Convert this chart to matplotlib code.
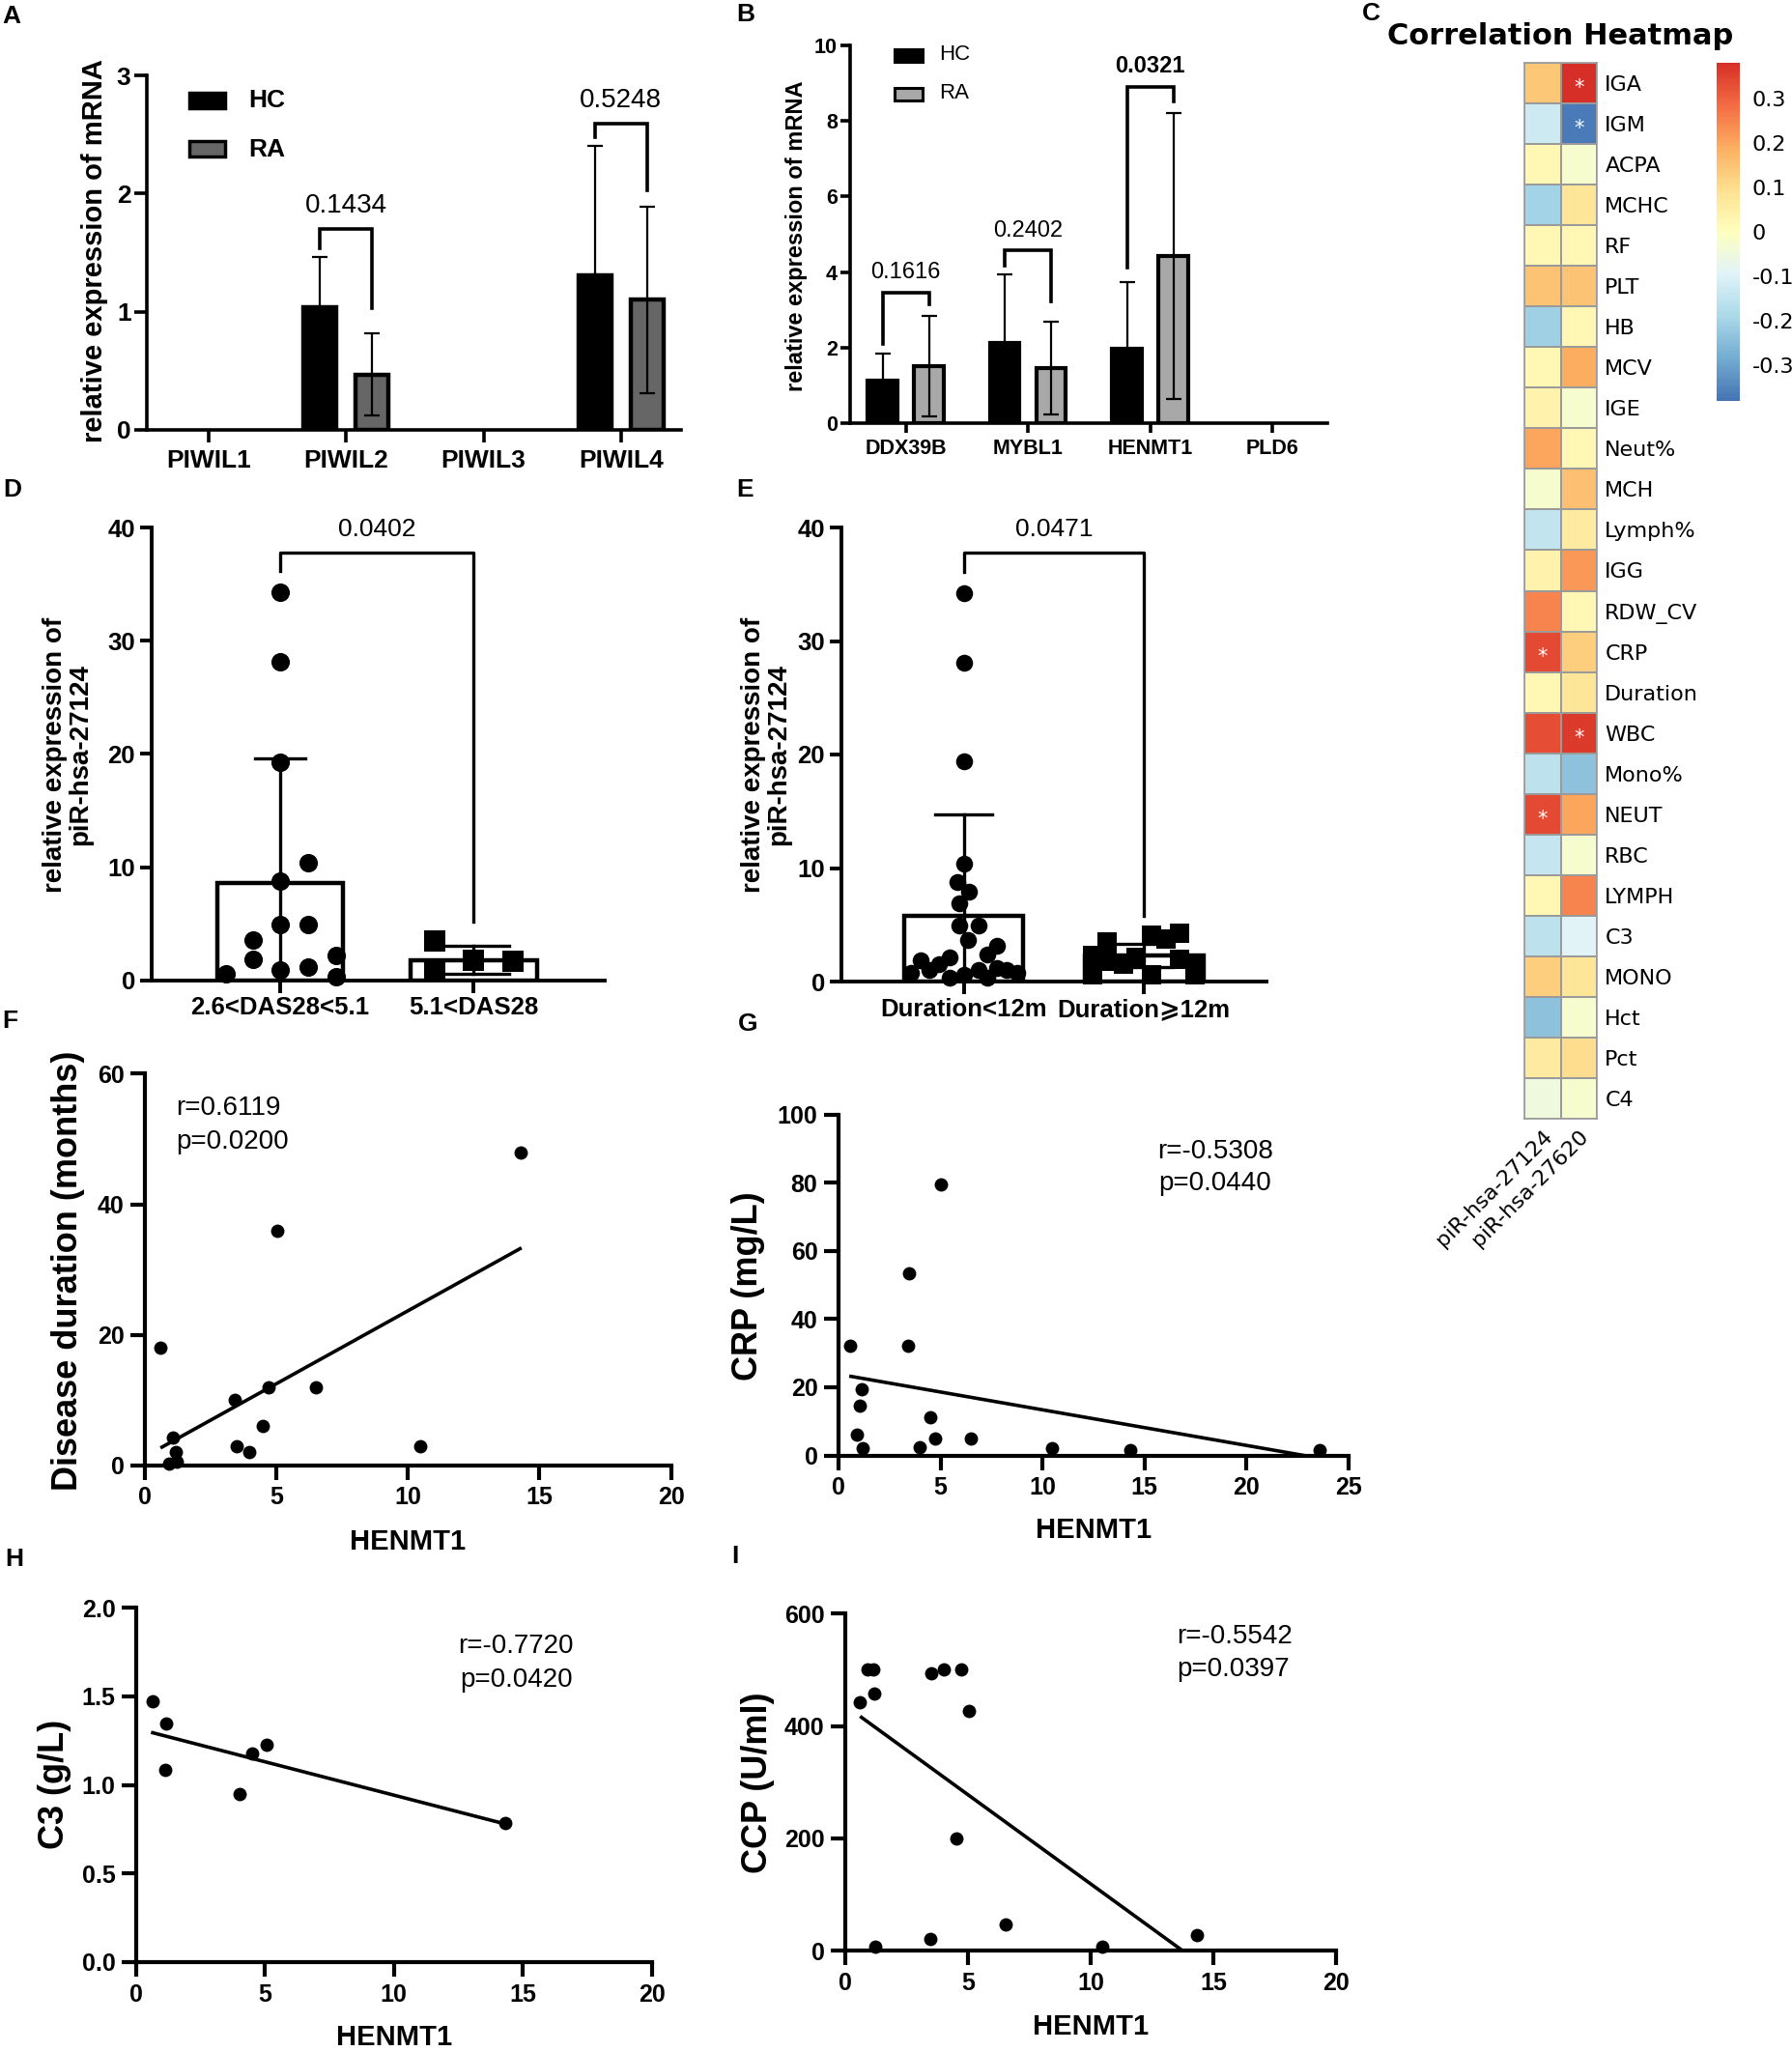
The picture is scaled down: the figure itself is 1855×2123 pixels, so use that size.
import numpy as np
import matplotlib
matplotlib.use("Agg")
import matplotlib.pyplot as plt
from matplotlib.patches import Rectangle
from matplotlib.colors import LinearSegmentedColormap
from matplotlib.ticker import FormatStrFormatter

W, H = 1855, 2123
plt.rcParams["font.family"] = ["Liberation Sans", "DejaVu Sans"]

# ---------------- data ----------------
# A: PIWIL mRNA, HC vs RA
A_GENES = ["PIWIL1", "PIWIL2", "PIWIL3", "PIWIL4"]
A_HC = [0, 1.04, 0, 1.31]
A_HC_SD = [0, 0.42, 0, 1.09]
A_RA = [0, 0.47, 0, 1.10]
A_RA_SD = [0, 0.35, 0, 0.79]
A_P = ["", "0.1434", "", "0.5248"]
A_BR_TOP = [0, 1.70, 0, 2.59]
A_BR_LEFT = [0, 1.54, 0, 2.48]
A_BR_RIGHT = [0, 1.03, 0, 2.03]

# B: piRNA pathway genes, HC vs RA
B_GENES = ["DDX39B", "MYBL1", "HENMT1", "PLD6"]
B_HC = [1.12, 2.11, 1.96, 0]
B_HC_SD = [0.73, 1.82, 1.78, 0]
B_RA = [1.51, 1.45, 4.43, 0]
B_RA_SD = [1.34, 1.23, 3.78, 0]
B_P = ["0.1616", "0.2402", "0.0321", ""]
B_BR_TOP = [3.46, 4.57, 8.91, 0]
B_BR_LEFT = [2.09, 4.17, 4.13, 0]
B_BR_RIGHT = [3.15, 3.23, 8.51, 0]

# C: correlation heatmap
C_ROWS = ["IGA", "IGM", "ACPA", "MCHC", "RF", "PLT", "HB", "MCV", "IGE", "Neut%",
          "MCH", "Lymph%", "IGG", "RDW_CV", "CRP", "Duration", "WBC", "Mono%",
          "NEUT", "RBC", "LYMPH", "C3", "MONO", "Hct", "Pct", "C4"]
C_COLS = ["piR-hsa-27124", "piR-hsa-27620"]
C_27124 = [0.14, -0.13, 0.025, -0.20, 0.025, 0.15, -0.21, 0.025, 0.04, 0.20,
           -0.025, -0.15, 0.04, 0.25, 0.34, 0.025, 0.33, -0.16, 0.34, -0.14,
           0.025, -0.16, 0.13, -0.24, 0.06, -0.05]
C_27620 = [0.38, -0.37, -0.025, 0.075, 0.025, 0.15, 0.025, 0.19, -0.025, 0.025,
           0.16, 0.06, 0.22, 0.025, 0.125, 0.075, 0.36, -0.24, 0.20, -0.025,
           0.25, -0.09, 0.075, -0.025, 0.10, -0.025]
C_STARS_27124 = ["CRP", "NEUT"]
C_STARS_27620 = ["IGA", "IGM", "WBC"]
C_CBAR_TICKS = [0.3, 0.2, 0.1, 0, -0.1, -0.2, -0.3]
C_CBAR_LABELS = ["0.3", "0.2", "0.1", "0", "-0.1", "-0.2", "-0.3"]

# D: piR-hsa-27124 by DAS28
D_GROUPS = ["2.6<DAS28<5.1", "5.1<DAS28"]
D_LOW = [34.26, 28.16, 19.24, 10.39, 8.76, 4.89, 4.95, 3.53, 1.87, 2.24, 0.88, 1.21, 0.60, 0.36]
D_LOW_JIT = [0, 0, 0, 0.145, 0, 0, 0.145, -0.14, -0.14, 0.29, 0, 0.145, -0.28, 0.29]
D_HIGH = [3.44, 1.81, 1.72, 0.82]
D_HIGH_JIT = [-0.2, 0, 0.2, -0.2]
D_MEAN = [8.58, 1.81]
D_SD = [11.0, 1.27]
D_P = "0.0402"
D_BR = (36.2, 37.8, 5.2)

# E: piR-hsa-27124 by disease duration
E_GROUPS = ["Duration<12m", "Duration\u2a7e12m"]
E_SHORT = [34.2, 28.1, 19.4, 10.4, 8.74, 7.93, 6.87, 4.91, 4.91, 3.62, 3.17, 2.35,
           1.9, 2.11, 0.75, 1.05, 1.5, 0.3, 0.6, 1.05, 0.3, 1.2, 1.05, 0.75]
E_SHORT_JIT = [0, 0, 0, 0, -0.034, 0.03, -0.027, -0.027, 0.08, 0.023, 0.186, 0.13,
               -0.24, -0.08, -0.295, -0.19, -0.136, -0.08, 0, 0.08, 0.13, 0.186, 0.24, 0.295]
E_LONG = [2.26, 3.47, 1.8, 1.5, 2.1, 4.07, 0.6, 3.77, 4.22, 1.96, 1.5, 0.6, 0.6]
E_LONG_JIT = [-0.284, -0.205, -0.205, -0.114, -0.045, 0.045, 0.045, 0.125, 0.2, 0.2,
              0.284, 0.284, -0.284]
E_MEAN = [5.82, 2.3]
E_SD = [8.9, 1.0]
E_P = "0.0471"
E_BR = (36.1, 37.8, 5.8)

# F-I: HENMT1 correlations
F_X = [0.60, 14.3, 5.02, 4.71, 6.51, 3.42, 4.47, 3.48, 3.96, 10.45, 1.08, 1.16, 0.91, 1.22]
F_Y = [17.98, 47.86, 35.9, 12.0, 12.0, 10.1, 5.98, 2.96, 2.04, 2.96, 4.24, 2.04, 0.26, 0.51]
F_FIT_X = [0.65, 14.26]
F_FIT_Y = [2.81, 33.2]

G_X = [0.57, 5.0, 3.47, 3.43, 1.12, 1.06, 0.92, 1.19, 3.99, 4.5, 4.74, 6.5, 10.47, 14.31, 23.57]
G_Y = [32.3, 79.5, 53.5, 32.1, 19.3, 14.5, 6.1, 2.0, 2.4, 11.1, 4.9, 4.9, 2.25, 1.5, 1.5]
G_FIT_X = [0.61, 22.8]
G_FIT_Y = [23.2, 0.0]

H_X = [0.64, 1.18, 1.12, 4.0, 4.51, 5.05, 14.32]
H_Y = [1.47, 1.345, 1.087, 0.949, 1.178, 1.225, 0.787]
H_FIT_X = [0.64, 14.32]
H_FIT_Y = [1.295, 0.78]

I_X = [0.61, 0.92, 1.14, 1.18, 1.23, 3.49, 4.0, 4.74, 5.03, 4.51, 3.47, 6.52, 10.46, 14.33]
I_Y = [443, 500, 500, 458, 7.5, 494.6, 500, 500, 427, 200.6, 21.2, 47.6, 7.5, 27.5]
I_FIT_X = [0.66, 13.7]
I_FIT_Y = [415.5, 1.7]


# ---------------- helpers ----------------
def add_ax(fig, l, t, r, b):
    return fig.add_axes([l / W, 1 - b / H, (r - l) / W, (b - t) / H])


def ftext(fig, x, y, s, **kw):
    kw.setdefault("ha", "center")
    kw.setdefault("va", "center")
    return fig.text(x / W, 1 - y / H, s, **kw)


def prism(ax, lw, tlen, tw, size, pad):
    ax.spines["top"].set_visible(False)
    ax.spines["right"].set_visible(False)
    ax.spines["left"].set_linewidth(lw)
    ax.spines["bottom"].set_linewidth(lw)
    ax.tick_params(length=tlen, width=tw, labelsize=size, pad=pad)
    for lab in ax.get_xticklabels() + ax.get_yticklabels():
        lab.set_fontweight("bold")


def legend_box(fig, l, t, r, b, color, lw):
    fig.add_artist(Rectangle((l / W, 1 - b / H), (r - l) / W, (b - t) / H,
                             transform=fig.transFigure, facecolor=color,
                             edgecolor="black", lw=lw))


def bar_panel(ax, genes, hc, hc_sd, ra, ra_sd, ra_color, p_txt, br_top, br_l, br_r,
              p_gap, p_size, bold_p, edge_lw, cap):
    off, bw = 0.19, 0.24
    for i in range(len(genes)):
        if hc[i] > 0:
            ax.bar(i - off, hc[i], bw, color="black", edgecolor="black", lw=edge_lw, zorder=2)
            ax.errorbar(i - off, hc[i], yerr=[[0], [hc_sd[i]]], fmt="none", ecolor="black",
                        elinewidth=1.6, capsize=cap, capthick=1.6, zorder=3)
        if ra[i] > 0:
            ax.bar(i + off, ra[i], bw, color=ra_color, edgecolor="black", lw=edge_lw, zorder=2)
            ax.errorbar(i + off, ra[i], yerr=ra_sd[i], fmt="none", ecolor="black",
                        elinewidth=1.6, capsize=cap, capthick=1.6, zorder=3)
        if p_txt[i]:
            ax.plot([i - off, i - off, i + off, i + off], [br_l[i], br_top[i], br_top[i], br_r[i]],
                    color="black", lw=2.6, solid_joinstyle="miter", clip_on=False)
            ax.text(i, br_top[i] + p_gap, p_txt[i], ha="center", va="center", fontsize=p_size,
                    fontweight="bold" if p_txt[i] in bold_p else "normal")


def dot_panel(ax, groups, vals, jits, markers, sizes, means, sds, caps, bar_w):
    for i in range(len(groups)):
        ax.bar(i, means[i], bar_w, facecolor="white", edgecolor="black", lw=3.2, zorder=1)
        lo = max(0.0, means[i] - sds[i])
        hi = means[i] + sds[i]
        ax.plot([i, i], [lo, hi], color="black", lw=2.4, zorder=2)
        ax.plot([i - caps[i], i + caps[i]], [hi, hi], color="black", lw=2.4, zorder=2)
        if lo > 0:
            ax.plot([i - caps[i], i + caps[i]], [lo, lo], color="black", lw=2.4, zorder=2)
        ax.scatter(i + np.array(jits[i]), vals[i], s=sizes[i], marker=markers[i],
                   color="black", zorder=3, clip_on=False, linewidths=0)


def bracket(ax, x0, x1, left, top, right, txt, size):
    ax.plot([x0, x0, x1, x1], [left, top, top, right], color="black", lw=2.4, clip_on=False)
    ax.text((x0 + x1) / 2, top + 2.0, txt, ha="center", va="center", fontsize=size)


def corr_panel(ax, xs, ys, fx, fy, xmax, xstep, ymax, ystep, fmt):
    ax.scatter(xs, ys, s=100, color="black", zorder=3, clip_on=False, linewidths=0)
    ax.plot(fx, fy, color="black", lw=2.6, zorder=2)
    ax.set_xlim(0, xmax)
    ax.set_ylim(0, ymax)
    ax.set_xticks(np.arange(0, xmax + 0.001, xstep))
    ax.set_yticks(np.arange(0, ymax + 0.001, ystep))
    if fmt:
        ax.yaxis.set_major_formatter(FormatStrFormatter(fmt))
    prism(ax, 3.0, 10.5, 3.0, 18, 5)


fig = plt.figure(figsize=(W / 100, H / 100), dpi=100)

# ---------------- A ----------------
ax = add_ax(fig, 151.5, 78, 705, 445)
bar_panel(ax, A_GENES, A_HC, A_HC_SD, A_RA, A_RA_SD, "#666666", A_P, A_BR_TOP, A_BR_LEFT,
          A_BR_RIGHT, 0.2, 20, [], 3.2, 6)
ax.set_xlim(-0.453, 3.437)
ax.set_ylim(0, 3)
ax.set_xticks(range(4), A_GENES)
ax.set_yticks([0, 1, 2, 3])
prism(ax, 2.6, 9.5, 2.6, 19, 5)
ax.tick_params(axis="y", pad=2)
ftext(fig, 98, 260, "relative expression of mRNA", rotation=90, fontsize=21, fontweight="bold")
legend_box(fig, 196, 96, 233, 112, "black", 2.5)
legend_box(fig, 196, 146, 233, 162, "#666666", 2.5)
ftext(fig, 257, 104, "HC", ha="left", fontsize=19, fontweight="bold")
ftext(fig, 257, 155, "RA", ha="left", fontsize=19, fontweight="bold")

# ---------------- B ----------------
ax = add_ax(fig, 880, 47, 1374, 438)
bar_panel(ax, B_GENES, B_HC, B_HC_SD, B_RA, B_RA_SD, "#a8a8a8", B_P, B_BR_TOP, B_BR_LEFT,
          B_BR_RIGHT, 0.53, 17, ["0.0321"], 3.0, 6)
ax.set_xlim(-0.455, 3.45)
ax.set_ylim(0, 10)
ax.set_xticks(range(4), B_GENES)
ax.set_yticks([0, 2, 4, 6, 8, 10])
prism(ax, 2.6, 7.5, 2.6, 15.5, 4)
ax.tick_params(axis="y", pad=2)
ftext(fig, 824, 244, "relative expression of mRNA", rotation=90, fontsize=17, fontweight="bold")
legend_box(fig, 926, 51, 955, 64, "black", 2.2)
legend_box(fig, 926, 91, 955, 104, "#a8a8a8", 2.2)
ftext(fig, 972, 57, "HC", ha="left", fontsize=16)
ftext(fig, 972, 97, "RA", ha="left", fontsize=16)

# ---------------- C ----------------
heat_cmap = LinearSegmentedColormap.from_list(
    "rdylbu_mid", plt.get_cmap("RdYlBu_r")(np.linspace(0.1, 0.9, 256)))
hax = add_ax(fig, 1578, 65, 1653, 1158)
vals = np.column_stack([C_27124, C_27620])
mesh = hax.pcolormesh(vals, cmap=heat_cmap, vmin=-0.38, vmax=0.38,
                      edgecolors="#9a9a9a", linewidth=1.2)
hax.set_xlim(0, 2)
hax.set_ylim(len(C_ROWS), 0)
hax.yaxis.tick_right()
hax.set_yticks(np.arange(len(C_ROWS)) + 0.5, C_ROWS, fontsize=16, family="DejaVu Sans")
hax.set_xticks([0.5, 1.5], C_COLS, fontsize=16, family="DejaVu Sans", rotation=45,
               ha="right", rotation_mode="anchor")
hax.tick_params(length=0, pad=6)
for sp in hax.spines.values():
    sp.set_color("#9a9a9a")
    sp.set_linewidth(1.2)
for j, stars in enumerate([C_STARS_27124, C_STARS_27620]):
    for name in stars:
        hax.text(j + 0.5, C_ROWS.index(name) + 0.62, "*", color="white", ha="center",
                 va="center", fontsize=15, family="DejaVu Sans")
cax = add_ax(fig, 1777, 65, 1801, 415)
cb = fig.colorbar(mesh, cax=cax)
cb.outline.set_visible(False)
cb.set_ticks(C_CBAR_TICKS)
cb.set_ticklabels(C_CBAR_LABELS)
cax.tick_params(length=0, labelsize=16, pad=9)
for lab in cax.get_yticklabels():
    lab.set_family("DejaVu Sans")
ftext(fig, 1615, 37, "Correlation Heatmap", fontsize=22, fontweight="bold", family="DejaVu Sans")

# ---------------- D ----------------
ax = add_ax(fig, 156.7, 546, 626, 1014.8)
dot_panel(ax, D_GROUPS, [D_LOW, D_HIGH], [D_LOW_JIT, D_HIGH_JIT], ["o", "s"], [190, 260],
          D_MEAN, D_SD, [0.13, 0.18], 0.65)
bracket(ax, 0, 1, D_BR[0], D_BR[1], D_BR[2], D_P, 19)
ax.set_xlim(-0.665, 1.676)
ax.set_ylim(0, 40)
ax.set_xticks([0, 1], D_GROUPS)
ax.set_yticks([0, 10, 20, 30, 40])
prism(ax, 2.8, 9, 2.8, 18.5, 3)
ftext(fig, 70, 781, "relative expression of\npiR-hsa-27124", rotation=90, fontsize=20,
      fontweight="bold", linespacing=1.0)

# ---------------- E ----------------
ax = add_ax(fig, 870.5, 546, 1311, 1016)
dot_panel(ax, E_GROUPS, [E_SHORT, E_LONG], [E_SHORT_JIT, E_LONG_JIT], ["o", "s"], [160, 200],
          E_MEAN, E_SD, [0.16, 0.16], 0.66)
bracket(ax, 0, 1, E_BR[0], E_BR[1], E_BR[2], E_P, 19)
ax.set_xlim(-0.682, 1.681)
ax.set_ylim(0, 40)
ax.set_xticks([0, 1], E_GROUPS)
ax.set_yticks([0, 10, 20, 30, 40])
prism(ax, 2.8, 9, 2.8, 18.5, 3)
ftext(fig, 793, 781, "relative expression of\npiR-hsa-27124", rotation=90, fontsize=20,
      fontweight="bold", linespacing=1.0)

# ---------------- F-I ----------------
ax = add_ax(fig, 150, 1111.4, 694.6, 1516.9)
corr_panel(ax, F_X, F_Y, F_FIT_X, F_FIT_Y, 20, 5, 60, 20, None)
ax.text(0.059, 0.911, "r=0.6119", transform=ax.transAxes, fontsize=20, va="center")
ax.text(0.059, 0.825, "p=0.0200", transform=ax.transAxes, fontsize=20, va="center")
ftext(fig, 71, 1315, "Disease duration (months)", rotation=90, fontsize=26, fontweight="bold")
ftext(fig, 422, 1596, "HENMT1", fontsize=21, fontweight="bold")

ax = add_ax(fig, 868, 1153.9, 1396, 1506.5)
corr_panel(ax, G_X, G_Y, G_FIT_X, G_FIT_Y, 25, 5, 100, 20, None)
ax.text(0.625, 0.893, "r=-0.5308", transform=ax.transAxes, fontsize=20, va="center")
ax.text(0.627, 0.798, "p=0.0440", transform=ax.transAxes, fontsize=20, va="center")
ftext(fig, 775, 1331, "CRP (mg/L)", rotation=90, fontsize=26, fontweight="bold")
ftext(fig, 1132, 1584, "HENMT1", fontsize=21, fontweight="bold")

ax = add_ax(fig, 141, 1664.3, 674.5, 2031)
corr_panel(ax, H_X, H_Y, H_FIT_X, H_FIT_Y, 20, 5, 2.0, 0.5, "%.1f")
ax.text(0.624, 0.891, "r=-0.7720", transform=ax.transAxes, fontsize=20, va="center")
ax.text(0.628, 0.795, "p=0.0420", transform=ax.transAxes, fontsize=20, va="center")
ftext(fig, 57, 1847, "C3 (g/L)", rotation=90, fontsize=26, fontweight="bold")
ftext(fig, 408, 2109, "HENMT1", fontsize=21, fontweight="bold")

ax = add_ax(fig, 875, 1670.3, 1383, 2019.3)
corr_panel(ax, I_X, I_Y, I_FIT_X, I_FIT_Y, 20, 5, 600, 200, None)
ax.text(0.675, 0.931, "r=-0.5542", transform=ax.transAxes, fontsize=20, va="center")
ax.text(0.675, 0.834, "p=0.0397", transform=ax.transAxes, fontsize=20, va="center")
ftext(fig, 784, 1845, "CCP (U/ml)", rotation=90, fontsize=26, fontweight="bold")
ftext(fig, 1129, 2098, "HENMT1", fontsize=21, fontweight="bold")

# ---------------- panel letters ----------------
for letter, x, y in [("A", 2, 17), ("B", 762, 15), ("C", 1410, 14), ("D", 3, 507),
                     ("E", 762, 507), ("F", 2, 1057), ("G", 764, 1060), ("H", 5, 1614),
                     ("I", 757, 1611)]:
    ftext(fig, x, y, letter, fontsize=19, fontweight="bold", ha="left")

fig.savefig("out.png", dpi=100)
